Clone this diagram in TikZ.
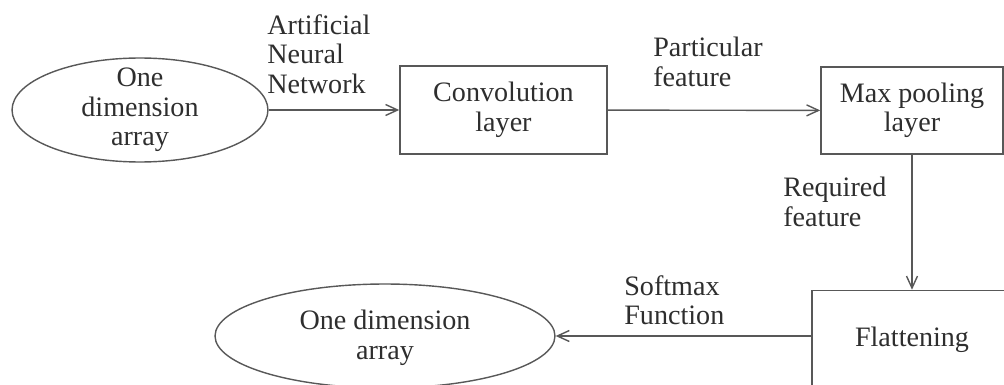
\documentclass[tikz,border=0pt]{standalone}
\usepackage{fontspec}
\setmainfont{Liberation Serif}
\usepackage{xcolor}
\usepackage{tikz}
\usetikzlibrary{positioning, arrows.meta, shapes.geometric}
\definecolor{nInk}{HTML}{585858}
\definecolor{nText}{HTML}{2E2E2E}

\begin{document}
\begin{tikzpicture}[x=0.02cm, y=-0.02cm, >={Straight Barb[length=0.24cm,width=0.22cm]},
    blk/.style={draw=nInk, line width=0.9pt, rectangle, inner sep=0pt},
    oval/.style={draw=nInk, line width=0.8pt, ellipse, inner sep=0pt},
    txt/.style={text=nText, font=\fontsize{16}{16.8}\selectfont, align=center},
    lbl/.style={txt, align=left, anchor=west, inner sep=0pt},
    flow/.style={->, draw=nInk, line width=0.8pt}]
  \path[use as bounding box, clip] (0,0) rectangle (1004,385);
  % blocks
  \node[oval, minimum width=5.12cm, minimum height=2.08cm] (in) at (140,110) {};
  \node[txt] (inText) at (in) {One\\dimension\\array};
  \node[blk, txt, minimum width=4.14cm, minimum height=1.76cm] (conv) at (503.5,110) {Convolution\\layer};
  \node[blk, txt, minimum width=3.64cm, minimum height=1.74cm] (pool) at (912,110.5) {Max pooling\\layer};
  \node[blk, txt, minimum width=4cm, minimum height=1.98cm] (flat) at (912,340) {Flattening};
  \node[oval, minimum width=6.8cm, minimum height=2.08cm] (out) at (385,336) {};
  \node[txt] (outText) at (385,338) {One dimension\\array};

  % connectors
  \draw[flow] (in) -- (conv);
  \draw[flow] (conv) -- (pool);
  \draw[flow] (pool) -- (flat);
  \draw[flow] (flat.west |- out.east) -- (out.east);

  % labels
  \node[lbl] (annLbl) at (267,54) {Artificial\\Neural\\Network};
  \node[lbl] (featLbl) at (653,62) {Particular\\feature};
  \node[lbl] (reqLbl) at (783,202) {Required\\feature};
  \node[lbl] (softLbl) at (624,300) {Softmax\\Function};
\end{tikzpicture}
\end{document}
